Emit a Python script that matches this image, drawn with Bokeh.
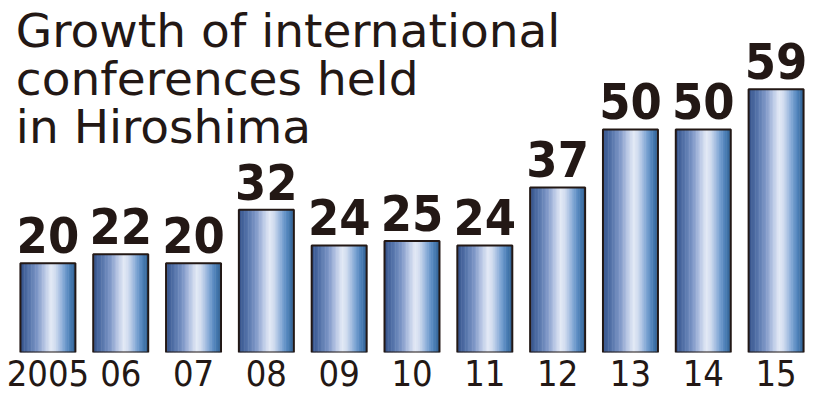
from bokeh.plotting import figure
from bokeh.models import ColumnDataSource, Label, FactorRange, Range1d
from bokeh.transform import dodge
from bokeh.core.properties import value
from bokeh.embed import file_html
from bokeh.resources import INLINE
import numpy as np

# ---- data ----
years = ["2005", "06", "07", "08", "09", "10", "11", "12", "13", "14", "15"]
counts = [20, 22, 20, 32, 24, 25, 24, 37, 50, 50, 59]
title_lines = ["Growth of international", "conferences held", "in Hiroshima"]

INK = "#231815"
NARROW = "DejaVu Sans Condensed"

W, H = 820, 405
BOTTOM = 53
PPU = 4.461
frame_h = H - BOTTOM
p = figure(x_range=FactorRange(factors=years, range_padding=0),
           y_range=Range1d(0, frame_h / PPU),
           width=W, height=H, output_backend="svg", toolbar_location=None,
           min_border_left=11, min_border_right=8, min_border_top=0,
           min_border_bottom=BOTTOM)

src = ColumnDataSource(dict(year=years, count=counts, label=[str(c) for c in counts]))

# gradient across each bar (built from vertical strips)
stops = [(0.00, "#2e4a80"), (0.06, "#3f5e96"), (0.18, "#5a78ae"), (0.32, "#8099c8"),
         (0.45, "#b9c8e5"), (0.56, "#e3e9f5"), (0.64, "#d0dcef"), (0.72, "#a7bfe2"),
         (0.80, "#7aa2d2"), (0.88, "#5486bd"), (0.95, "#3d70a6"), (1.00, "#2d5b8c")]

def hex2rgb(h):
    h = h.lstrip("#")
    return np.array([int(h[i:i + 2], 16) for i in (0, 2, 4)], dtype=float)

def grad(t):
    for (t0, c0), (t1, c1) in zip(stops[:-1], stops[1:]):
        if t0 <= t <= t1:
            f = (t - t0) / (t1 - t0) if t1 > t0 else 0
            c = hex2rgb(c0) * (1 - f) + hex2rgb(c1) * f
            return "#%02x%02x%02x" % tuple(int(round(v)) for v in c)
    return stops[-1][1]

BW = 0.755
N = 40
sw = BW / N
for j in range(N):
    t = (j + 0.5) / N
    off = -BW / 2 + (j + 0.5) * sw
    p.vbar(x=dodge("year", off, range=p.x_range), top="count", width=sw * 1.35,
           source=src, fill_color=grad(t), line_color=None)

p.vbar(x="year", top="count", width=BW, source=src, fill_color=None,
       line_color=INK, line_width=2)

LBL_SIZE = 50
p.text(x="year", y="count", text="label", source=src, text_align="center",
       text_baseline="middle", y_offset=-28,
       text_font=value(NARROW), text_font_style="bold",
       text_font_size=f"{LBL_SIZE}px", text_color=INK)

# title (cap centres)
for line, ypx in zip(title_lines, [29.8, 78.1, 126.4]):
    p.add_layout(Label(x=0.06, y=(frame_h - ypx) / PPU, text=line,
                       text_font="DejaVu Sans", text_font_size="47px",
                       text_color=INK, text_baseline="middle"))

# axes
p.yaxis.visible = False
ax = p.xaxis[0]
ax.axis_line_color = None
ax.major_tick_line_color = None
ax.minor_tick_line_color = None
ax.major_tick_out = 0
ax.major_tick_in = 0
ax.major_label_standoff = 7
ax.major_label_text_font = NARROW
ax.major_label_text_font_size = "36px"
ax.major_label_text_color = INK
p.xgrid.visible = False
p.ygrid.visible = False
p.outline_line_color = None
p.background_fill_color = "white"
p.border_fill_color = "white"

open("out.html", "w").write(file_html(p, INLINE))
